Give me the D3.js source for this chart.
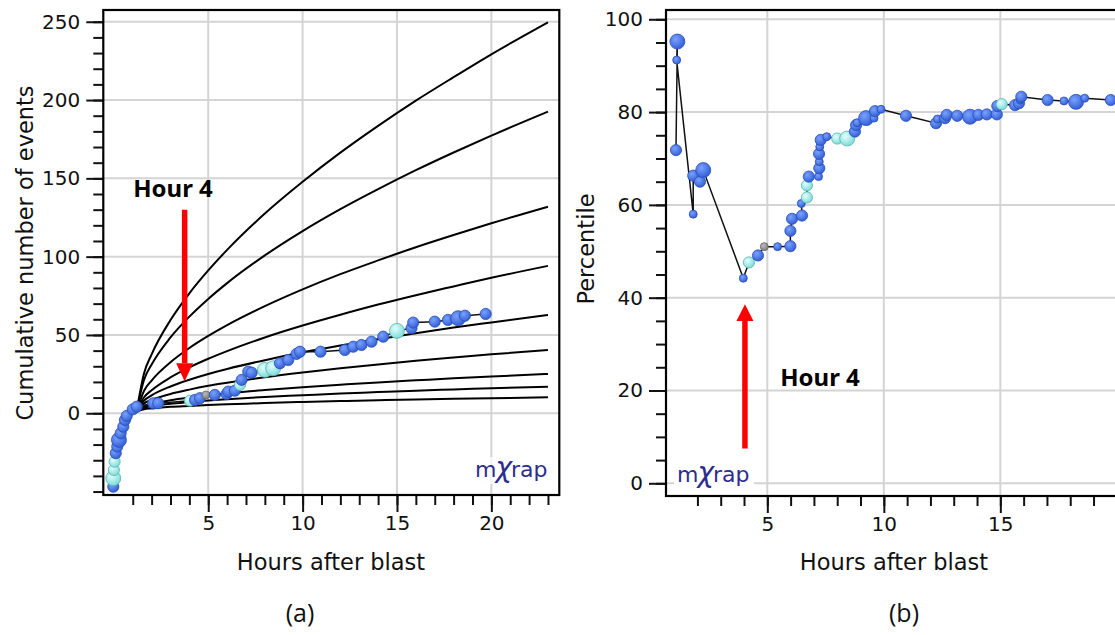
<!DOCTYPE html>
<html>
<head>
<meta charset="utf-8">
<script src="https://cdn.jsdelivr.net/npm/d3@7"></script>
<style>
  body { margin: 0; background: #fff; }
  svg { display: block; }
</style>
</head>
<body>
<div id="root"></div>
<script>
// --- data ---
// panel (a): cumulative events
const leftHours  = [-0.03, -0.03, 0.0, 0.04, 0.10, 0.18, 0.27, 0.36, 0.50, 0.59, 0.68, 1.0, 1.21, 2.09, 2.35, 4.03, 4.30, 4.56, 4.88, 5.35, 5.97, 6.06, 6.41, 6.68, 6.77, 7.12, 7.30, 8.0, 8.44, 8.80, 9.24, 9.68, 9.86, 10.95, 12.24, 12.68, 13.12, 13.65, 14.27, 15.0, 15.77, 15.86, 17.0, 17.7, 18.24, 18.6, 19.7];
const leftCounts = [-46.9, -41.5, -36.2, -30.9, -25.5, -21.3, -17, -12.8, -8.6, -4.3, -1.7, 2.5, 4.2, 6.4, 6.4, 8.0, 8.5, 9.6, 11.7, 11.7, 12.3, 13.8, 14.4, 18.1, 21.3, 26.6, 25.9, 27.7, 28.7, 31.9, 34, 37.9, 39.3, 39.3, 40.4, 42.5, 43.6, 45.7, 48.9, 52.6, 54.3, 57.9, 58.5, 59.6, 60.7, 62.3, 63.4];
const leftClass  = ["mb","lc","mc","mc","mb","mb","lb","mb","mb","mb","mb","mb","mb","mb","mb","mc","mb","mb","sg","mb","mb","mb","mb","mc","mb","mb","mb","lc","lc","mb","mb","mb","mb","mb","mb","mb","mb","mb","mb","lc","mb","mb","mb","mb","lb","mb","mb"];

// reference curves (fan), sampled at these hours
const curveHours = [1.2, 1.6, 2, 3, 4, 5, 6, 8, 10, 12, 14, 16, 18, 20, 23];
const curve1 = [1, 25.5, 37.6, 59.5, 76.6, 91.2, 104.3, 127.5, 147.8, 166.4, 183.5, 199.6, 214.6, 229.2, 249.6];
const curve2 = [1, 21.4, 31.1, 48.4, 61.7, 73.0, 83.1, 100.8, 116.3, 130.3, 143.1, 155.2, 166.5, 177.3, 192.6];
const curve3 = [1, 14.4, 20.9, 32.6, 41.7, 49.4, 56.3, 68.4, 79.1, 88.8, 97.6, 106.0, 113.8, 121.3, 131.9];
const curve4 = [1, 10.2, 14.7, 22.9, 29.3, 34.8, 39.7, 48.4, 56.0, 62.9, 69.4, 75.4, 81.0, 86.5, 94.1];
const curve5 = [1, 8.1, 11.4, 17.1, 21.4, 25.1, 28.3, 33.9, 38.9, 43.3, 47.3, 51.1, 54.7, 58.0, 62.8];
const curve6 = [1, 6.3, 8.5, 12.3, 15.1, 17.5, 19.5, 23.0, 26.0, 28.7, 31.2, 33.5, 35.6, 37.6, 40.4];
const curve7 = [1, 4.5, 5.9, 8.3, 10.0, 11.4, 12.7, 14.8, 16.6, 18.2, 19.7, 21.0, 22.3, 23.4, 25.1];
const curve8 = [1, 3.5, 4.5, 6.1, 7.2, 8.2, 9.0, 10.4, 11.5, 12.6, 13.5, 14.4, 15.2, 16.0, 17.0];
const curve9 = [1, 2.6, 3.1, 4.1, 4.7, 5.3, 5.7, 6.5, 7.2, 7.8, 8.3, 8.8, 9.2, 9.6, 10.2];

// panel (b): percentile
const rightHours = [1.08, 1.14, 1.11, 1.82, 1.82, 2.11, 2.25, 3.97, 4.21, 4.60, 4.87, 5.44, 5.99, 5.99, 6.06, 6.49, 6.46, 6.70, 6.70, 6.78, 7.20, 7.23, 7.23, 7.22, 7.25, 7.29, 7.55, 8.0, 8.43, 8.76, 8.81, 8.85, 9.24, 9.58, 9.62, 9.88, 10.95, 12.24, 12.30, 12.63, 12.70, 13.15, 13.70, 14.06, 14.42, 14.85, 14.87, 15.06, 15.63, 15.80, 15.85, 15.90, 17.03, 17.73, 18.25, 18.62, 19.74];
const rightPct   = [71.8, 95.2, 91.2, 58.0, 66.3, 65.0, 67.5, 44.2, 47.6, 49.1, 51.0, 51.0, 51.1, 54.4, 57.0, 57.7, 60.3, 61.6, 64.2, 66.1, 66.1, 67.9, 69.3, 71.0, 72.5, 74.0, 74.7, 74.3, 74.3, 75.8, 77.2, 77.7, 78.7, 78.7, 80.2, 80.6, 79.2, 77.6, 78.5, 78.7, 79.4, 79.2, 79.0, 79.4, 79.5, 79.5, 81.3, 81.7, 81.5, 81.9, 82.6, 83.3, 82.6, 82.4, 82.2, 83.0, 82.6];
const rightClass = ["mb","lb","sb","sb","mb","mb","lb","sb","mc","mb","sg","sb","mb","mb","mb","mb","sb","mc","mc","mb","sb","mb","sb","mb","sb","mb","sb","mc","lc","mb","mb","sb","lb","sb","mb","sb","mb","mb","sb","mb","mb","mb","lb","mb","mb","mb","mb","mc","mb","mb","sb","mb","mb","sb","lb","sb","mb"];

const leftYMajor = [0, 50, 100, 150, 200, 250];
const rightYMajor = [0, 20, 40, 60, 80, 100];
const xMajorLeft = [5, 10, 15, 20];
const xMajorRight = [5, 10, 15];

// --- setup ---
const W = 1115, H = 635;
const svg = d3.select("#root").append("svg").attr("width", W).attr("height", H);

const defs = svg.append("defs");
const makeGrad = (id, c0, c1) => {
  const g = defs.append("radialGradient").attr("id", id)
    .attr("cx", "38%").attr("cy", "35%").attr("r", "65%");
  g.append("stop").attr("offset", "0%").attr("stop-color", c0);
  g.append("stop").attr("offset", "100%").attr("stop-color", c1);
};
makeGrad("gb", "#7aa2ff", "#3460d6");
makeGrad("gc", "#e2fffd", "#7fdcd8");
makeGrad("gg", "#bdbdbd", "#7d7d7d");

const radius = { s: 4, m: 5.6, l: 7.5 };
const fillOf = { b: "url(#gb)", c: "url(#gc)", g: "url(#gg)" };
const strokeOf = { b: "#2b4fb8", c: "#58b4b0", g: "#6a6a6a" };

const axisFont = "DejaVu Sans, Verdana, sans-serif";

// draws frame, grid, ticks, labels for a panel
const drawPanel = (p) => {
  const g = svg.append("g");
  const [x0, x1] = p.x.range();
  const [y0, y1] = p.y.range();

  // grid
  g.selectAll(".vg").data(p.xMajor).enter().append("line")
    .attr("x1", d => p.x(d)).attr("x2", d => p.x(d))
    .attr("y1", y1).attr("y2", y0)
    .attr("stroke", "#d4d4d4").attr("stroke-width", 2);
  g.selectAll(".hg").data(p.yMajor).enter().append("line")
    .attr("x1", x0).attr("x2", x1)
    .attr("y1", d => p.y(d)).attr("y2", d => p.y(d))
    .attr("stroke", "#d4d4d4").attr("stroke-width", 2);

  // y axis
  const ya = g.append("g").attr("transform", `translate(${x0},0)`)
    .call(d3.axisLeft(p.y).tickValues(p.yMinor).tickSize(10).tickFormat(""));
  const yb = g.append("g").attr("transform", `translate(${x0},0)`)
    .call(d3.axisLeft(p.y).tickValues(p.yMajor).tickSize(17).tickPadding(6));
  // x axis
  const xa = g.append("g").attr("transform", `translate(0,${y0})`)
    .call(d3.axisBottom(p.x).tickValues(p.xMinor).tickSize(10).tickFormat(""));
  const xb = g.append("g").attr("transform", `translate(0,${y0})`)
    .call(d3.axisBottom(p.x).tickValues(p.xMajor).tickSize(17).tickPadding(4));

  [ya, yb, xa, xb].forEach(a => {
    a.select(".domain").remove();
    a.selectAll("line").attr("stroke", "#111").attr("stroke-width", 2);
    a.selectAll("text").attr("font-family", axisFont).attr("font-size", 20).attr("fill", "#111");
  });

  // frame
  g.append("rect").attr("x", x0).attr("y", y1)
    .attr("width", x1 - x0).attr("height", y0 - y1)
    .attr("fill", "none").attr("stroke", "#000").attr("stroke-width", 2.2);

  // labels
  svg.append("text").attr("x", p.xLabelX).attr("y", 570)
    .attr("text-anchor", "middle").attr("font-family", axisFont).attr("font-size", 22.5)
    .attr("fill", "#111").text("Hours after blast");
  svg.append("text")
    .attr("transform", `translate(${p.yLabelX},${p.yLabelY}) rotate(-90)`)
    .attr("text-anchor", "middle").attr("font-family", axisFont).attr("font-size", 22.5)
    .attr("fill", "#111").text(p.yLabel);
  svg.append("text").attr("x", p.capX).attr("y", 622)
    .attr("text-anchor", "middle").attr("font-family", "Open Sans, Noto Sans, sans-serif")
    .attr("font-size", 25).attr("fill", "#111").text(p.caption);
  return g;
};

const watermark = (x, y, opacity) => {
  const w = svg.append("g");
  w.append("rect").attr("x", x - 3).attr("y", y - 20).attr("width", 80).attr("height", 27)
    .attr("fill", "#fff").attr("opacity", opacity);
  const t = w.append("text").attr("x", x).attr("y", y)
    .attr("font-family", axisFont).attr("font-size", 22).attr("fill", "#2d2d8f");
  t.append("tspan").text("m");
  t.append("tspan").attr("font-size", 28).attr("font-style", "italic").attr("dx", -1).text("χ");
  t.append("tspan").attr("dx", -1).text("rap");
};

const drawMarkers = (g, x, y, hours, vals, cls) => {
  const pts = hours.map((h, i) => ({ h, v: vals[i], size: cls[i][0], col: cls[i][1] }));
  g.append("path").datum(pts)
    .attr("d", d3.line().x(d => x(d.h)).y(d => y(d.v)))
    .attr("fill", "none").attr("stroke", "#111").attr("stroke-width", 1.5);
  g.selectAll(".pt").data(pts).enter().append("circle")
    .attr("cx", d => x(d.h)).attr("cy", d => y(d.v))
    .attr("r", d => radius[d.size])
    .attr("fill", d => fillOf[d.col])
    .attr("stroke", d => strokeOf[d.col]).attr("stroke-width", 0.8);
};

const redArrow = (g, x, yTail, yHeadBase, yTip, half) => {
  g.append("line").attr("x1", x).attr("x2", x).attr("y1", yTail).attr("y2", yHeadBase)
    .attr("stroke", "#ff0000").attr("stroke-width", 5.5);
  g.append("path")
    .attr("d", `M${x - half},${yHeadBase} L${x + half},${yHeadBase} L${x},${yTip} Z`)
    .attr("fill", "#ff0000");
};

// --- panel (a) ---
const xL = d3.scaleLinear().domain([-0.56, 23.6]).range([103.3, 559.3]);
const yL = d3.scaleLinear().domain([-52.2, 257.5]).range([495, 10]);

const gL = drawPanel({
  x: xL, y: yL,
  xMajor: xMajorLeft, xMinor: d3.range(1, 24),
  yMajor: leftYMajor, yMinor: d3.range(-50, 251, 10),
  xLabelX: 331, yLabelX: 33, yLabelY: 253, yLabel: "Cumulative number of events",
  capX: 300, caption: "(a)"
});

const curves = [curve1, curve2, curve3, curve4, curve5, curve6, curve7, curve8, curve9];
const curveLine = d3.line().x((d, i) => xL(curveHours[i])).y(d => yL(d)).curve(d3.curveMonotoneX);
gL.selectAll(".fan").data(curves).enter().append("path")
  .attr("d", curveLine).attr("fill", "none")
  .attr("stroke", "#000").attr("stroke-width", 2);

drawMarkers(gL, xL, yL, leftHours, leftCounts, leftClass);

// annotation (a)
svg.append("text").attr("x", 173).attr("y", 197).attr("text-anchor", "middle")
  .attr("font-family", "Noto Sans, Open Sans, sans-serif").attr("font-weight", "bold")
  .attr("font-size", 24).attr("fill", "#000").text("Hour 4");
redArrow(svg, xL(3.75), yL(130), yL(32), yL(20.5), 8.5);
watermark(475, 477, 0.75);

// --- panel (b) ---
const xR = d3.scaleLinear().domain([0.652, 20.35]).range([666, 1125]);
const yR = d3.scaleLinear().domain([-2.74, 102.0]).range([496, 10]);

const gR = drawPanel({
  x: xR, y: yR,
  xMajor: xMajorRight, xMinor: d3.range(2, 21),
  yMajor: rightYMajor, yMinor: d3.range(0, 101, 5),
  xLabelX: 894, yLabelX: 594, yLabelY: 249, yLabel: "Percentile",
  capX: 904, caption: "(b)"
});

drawMarkers(gR, xR, yR, rightHours, rightPct, rightClass);

svg.append("text").attr("x", 820).attr("y", 386).attr("text-anchor", "middle")
  .attr("font-family", "Noto Sans, Open Sans, sans-serif").attr("font-weight", "bold")
  .attr("font-size", 24).attr("fill", "#000").text("Hour 4");
redArrow(svg, xR(4.04), yR(7.5), yR(35), yR(38.6), 8.5);
watermark(677, 482, 1);
</script>
</body>
</html>
